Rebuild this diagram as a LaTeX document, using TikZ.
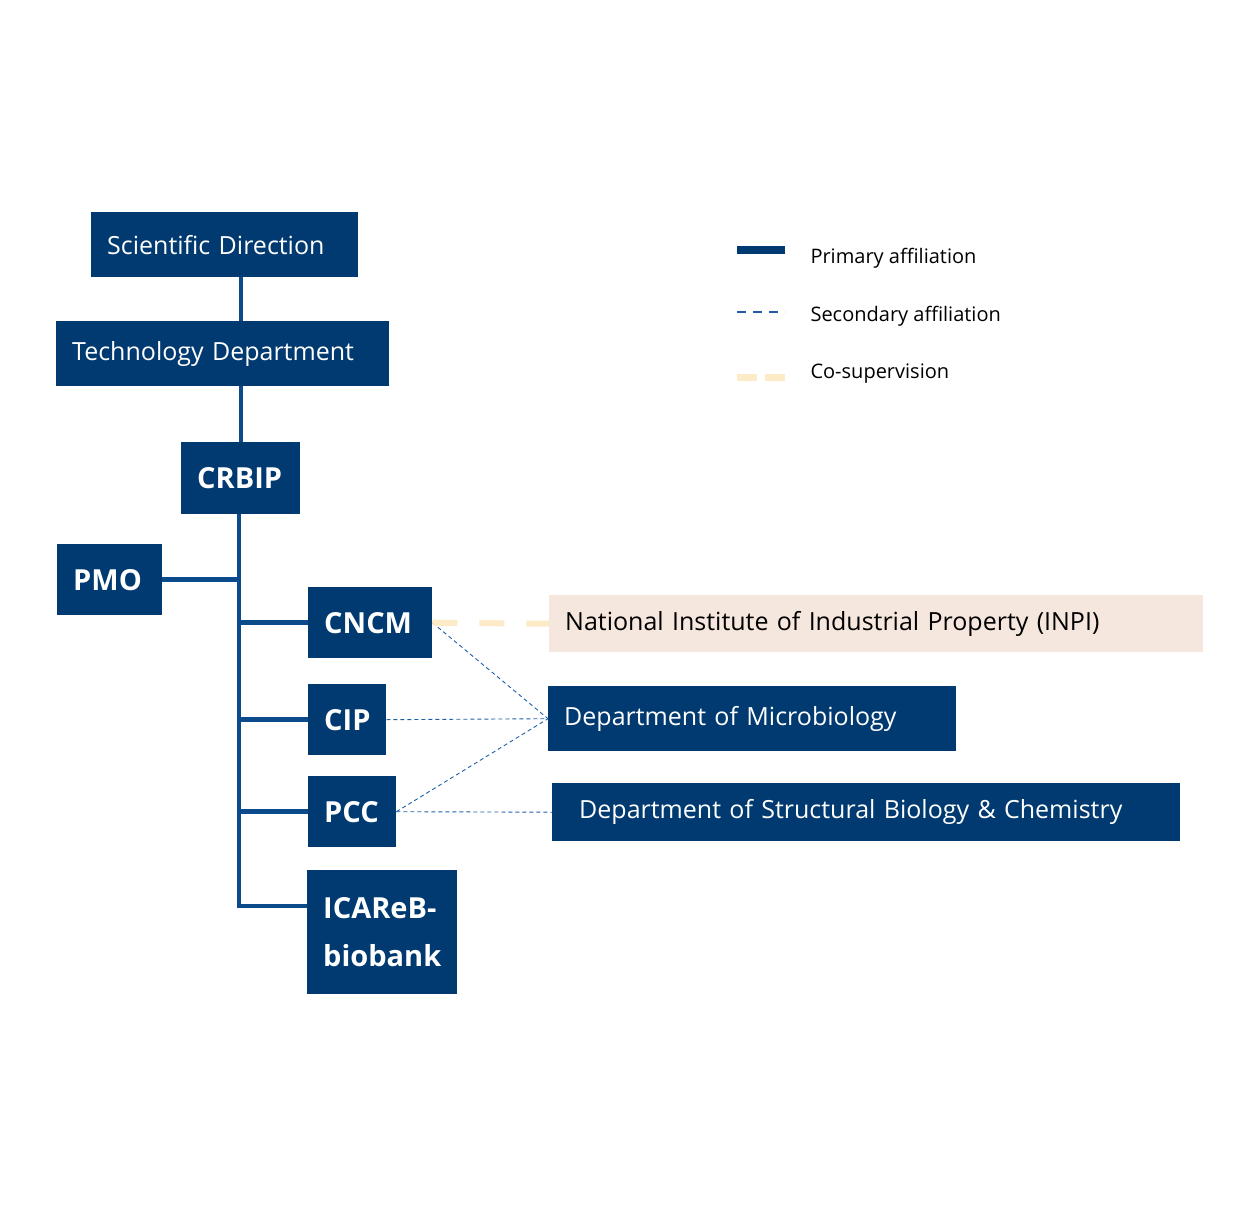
\documentclass[tikz,border=0pt]{standalone}
\usepackage{fontspec}
\setmainfont{Open Sans}
\definecolor{navy}{HTML}{003A70}
\definecolor{linec}{HTML}{0B4A8B}
\definecolor{dashc}{HTML}{1F5FA8}
\definecolor{cream}{HTML}{FDEBC8}
\definecolor{inpi}{HTML}{F5E7DD}
\begin{document}
\begin{tikzpicture}[x=1pt,y=-1pt,
  bx/.style={fill=navy,text=white,anchor=north west,inner xsep=16pt,inner ysep=0pt,align=left,font=\fontsize{25}{30}\selectfont},
  bb/.style={bx,font=\fontsize{29}{48}\selectfont\bfseries},
  prim/.style={draw=linec,line width=4.5pt},
  sec/.style={draw=dashc,line width=0.9pt,dash pattern=on 4pt off 3pt},
  cosup/.style={draw=cream,line width=6pt,dash pattern=on 25pt off 22pt},
  leg/.style={anchor=west,font=\fontsize{20}{24}\selectfont}]
\useasboundingbox (0,0) rectangle (1260,1206);
\node[bx,text width=235pt,minimum height=65pt] (sd) at (91,212) {Scientific Direction};
\node[bx,text width=301pt,minimum height=65pt] (td) at (56,321) {Technology Department};
\node[bb,text width=87pt,minimum height=72pt] (crbip) at (181,442) {CRBIP};
\node[bb,text width=73pt,minimum height=71pt] (pmo) at (57,544) {PMO};
\node[bb,text width=92pt,minimum height=71pt] (cncm) at (308,587) {CNCM};
\node[bb,text width=46pt,minimum height=71pt] (cip) at (308,684) {CIP};
\node[bb,text width=56pt,minimum height=71pt] (pcc) at (308,776) {PCC};
\node[bb,text width=118pt,minimum height=124pt] (ica) at (307,870) {ICAReB-\\biobank};
\node[bx,fill=inpi,text=black,text width=622pt,minimum height=57pt] (inpi) at (549,595) {National Institute of Industrial Property (INPI)};
\node[bx,text width=376pt,minimum height=65pt] (mic) at (548,686) {Department of Microbiology};
\node[bx,inner xsep=27pt,text width=574pt,minimum height=58pt] (sbc) at (552,783) {Department of Structural Biology \& Chemistry};
% trunk
\draw[prim] (sd.south -| 241,0) -- (td.north -| 241,0);
\draw[prim] (td.south -| 241,0) -- (crbip.north -| 241,0);
\coordinate (t1) at (239,514);
\coordinate (tb) at (239,906);
\draw[prim] (crbip.south -| t1) -- (tb) -- (ica.west |- tb);
\draw[prim] (pmo.east) -- (pmo.east -| t1);
\draw[prim] (cncm.west) -- (cncm.west -| t1);
\draw[prim] (cip.west) -- (cip.west -| t1);
\draw[prim] (pcc.west) -- (pcc.west -| t1);
% secondary
\draw[sec] (cncm.east) -- (mic.west);
\draw[sec] (cip.east) -- (mic.west);
\draw[sec] (pcc.east) -- (mic.west);
\draw[sec] (pcc.east) -- (sbc.west);
\draw[cosup] (cncm.east) -- (inpi.west);
% legend
\coordinate (l1a) at (737,250); \coordinate (l1b) at (785,250);
\coordinate (l2a) at (737,312); \coordinate (l2b) at (785,312);
\coordinate (l3a) at (737,377); \coordinate (l3b) at (785,377);
\draw[draw=navy,line width=8pt] (l1a) -- (l1b);
\draw[sec,line width=1.2pt,dash pattern=on 9pt off 7pt] (l2a) -- (l2b);
\draw[cosup,line width=7pt,dash pattern=on 20pt off 8pt] (l3a) -- (l3b);
\node[leg] (t1l) at (807,258) {Primary affiliation};
\node[leg] (t2l) at (807,316) {Secondary affiliation};
\node[leg] (t3l) at (807,374) {Co-supervision};
\end{tikzpicture}
\end{document}
